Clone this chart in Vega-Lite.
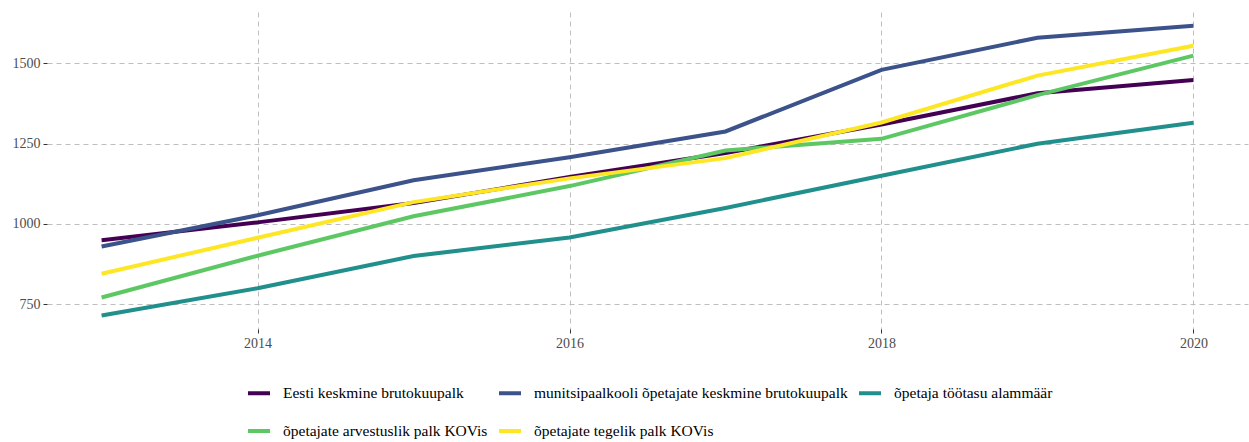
{
  "$schema": "https://vega.github.io/schema/vega-lite/v6.json",
  "width": 1201,
  "height": 317,
  "autosize": "none",
  "padding": {"left": 47, "top": 12, "right": 1, "bottom": 113},
  "background": "white",
  "config": {
    "view": {"stroke": null},
    "font": "Liberation Serif",
    "axis": {
      "labelFont": "Liberation Serif",
      "labelFontSize": 14,
      "labelColor": "#4D4D4D",
      "domain": false,
      "grid": true,
      "gridColor": "#BEBEBE",
      "gridDash": [5, 4],
      "gridWidth": 1,
      "tickColor": "#333333",
      "tickSize": 4,
      "title": null
    }
  },
  "data": {
    "values": [
      {"year": 2013, "series": "Eesti keskmine brutokuupalk", "value": 949},
      {"year": 2014, "series": "Eesti keskmine brutokuupalk", "value": 1005},
      {"year": 2015, "series": "Eesti keskmine brutokuupalk", "value": 1065},
      {"year": 2016, "series": "Eesti keskmine brutokuupalk", "value": 1146},
      {"year": 2017, "series": "Eesti keskmine brutokuupalk", "value": 1221},
      {"year": 2018, "series": "Eesti keskmine brutokuupalk", "value": 1310},
      {"year": 2019, "series": "Eesti keskmine brutokuupalk", "value": 1407},
      {"year": 2020, "series": "Eesti keskmine brutokuupalk", "value": 1448},
      {"year": 2013, "series": "munitsipaalkooli õpetajate keskmine brutokuupalk", "value": 930},
      {"year": 2014, "series": "munitsipaalkooli õpetajate keskmine brutokuupalk", "value": 1027},
      {"year": 2015, "series": "munitsipaalkooli õpetajate keskmine brutokuupalk", "value": 1136},
      {"year": 2016, "series": "munitsipaalkooli õpetajate keskmine brutokuupalk", "value": 1208},
      {"year": 2017, "series": "munitsipaalkooli õpetajate keskmine brutokuupalk", "value": 1288},
      {"year": 2018, "series": "munitsipaalkooli õpetajate keskmine brutokuupalk", "value": 1480},
      {"year": 2019, "series": "munitsipaalkooli õpetajate keskmine brutokuupalk", "value": 1580},
      {"year": 2020, "series": "munitsipaalkooli õpetajate keskmine brutokuupalk", "value": 1617},
      {"year": 2013, "series": "õpetaja töötasu alammäär", "value": 715},
      {"year": 2014, "series": "õpetaja töötasu alammäär", "value": 800},
      {"year": 2015, "series": "õpetaja töötasu alammäär", "value": 900},
      {"year": 2016, "series": "õpetaja töötasu alammäär", "value": 958},
      {"year": 2017, "series": "õpetaja töötasu alammäär", "value": 1050},
      {"year": 2018, "series": "õpetaja töötasu alammäär", "value": 1150},
      {"year": 2019, "series": "õpetaja töötasu alammäär", "value": 1250},
      {"year": 2020, "series": "õpetaja töötasu alammäär", "value": 1315},
      {"year": 2013, "series": "õpetajate arvestuslik palk KOVis", "value": 771},
      {"year": 2014, "series": "õpetajate arvestuslik palk KOVis", "value": 901},
      {"year": 2015, "series": "õpetajate arvestuslik palk KOVis", "value": 1024},
      {"year": 2016, "series": "õpetajate arvestuslik palk KOVis", "value": 1118},
      {"year": 2017, "series": "õpetajate arvestuslik palk KOVis", "value": 1229},
      {"year": 2018, "series": "õpetajate arvestuslik palk KOVis", "value": 1265},
      {"year": 2019, "series": "õpetajate arvestuslik palk KOVis", "value": 1401},
      {"year": 2020, "series": "õpetajate arvestuslik palk KOVis", "value": 1524},
      {"year": 2013, "series": "õpetajate tegelik palk KOVis", "value": 845},
      {"year": 2014, "series": "õpetajate tegelik palk KOVis", "value": 957},
      {"year": 2015, "series": "õpetajate tegelik palk KOVis", "value": 1068},
      {"year": 2016, "series": "õpetajate tegelik palk KOVis", "value": 1142},
      {"year": 2017, "series": "õpetajate tegelik palk KOVis", "value": 1205},
      {"year": 2018, "series": "õpetajate tegelik palk KOVis", "value": 1316},
      {"year": 2019, "series": "õpetajate tegelik palk KOVis", "value": 1462},
      {"year": 2020, "series": "õpetajate tegelik palk KOVis", "value": 1555}
    ]
  },
  "mark": {"type": "line", "strokeWidth": 4, "strokeCap": "butt"},
  "encoding": {
    "x": {
      "field": "year",
      "type": "quantitative",
      "scale": {"domain": [2012.65, 2020.35], "nice": false, "zero": false},
      "axis": {"values": [2014, 2016, 2018, 2020], "format": "d", "labelPadding": 3}
    },
    "y": {
      "field": "value",
      "type": "quantitative",
      "scale": {"domain": [673, 1660], "nice": false, "zero": false},
      "axis": {"values": [750, 1000, 1250, 1500], "format": "d", "labelPadding": 3}
    },
    "color": {
      "field": "series",
      "type": "nominal",
      "scale": {
        "domain": [
          "Eesti keskmine brutokuupalk",
          "munitsipaalkooli õpetajate keskmine brutokuupalk",
          "õpetaja töötasu alammäär",
          "õpetajate arvestuslik palk KOVis",
          "õpetajate tegelik palk KOVis"
        ],
        "range": ["#440154", "#3B528B", "#21908C", "#5DC863", "#FDE725"]
      },
      "legend": {
        "title": null,
        "orient": "none",
        "legendX": 199,
        "legendY": 368,
        "direction": "horizontal",
        "columns": 3,
        "symbolType": "stroke",
        "symbolSize": 484,
        "symbolStrokeWidth": 4,
        "labelFont": "Liberation Serif",
        "labelFontSize": 15.5,
        "labelColor": "#000000",
        "labelOffset": 11,
        "rowPadding": 16,
        "columnPadding": 3,
        "labelLimit": 500
      }
    }
  }
}
